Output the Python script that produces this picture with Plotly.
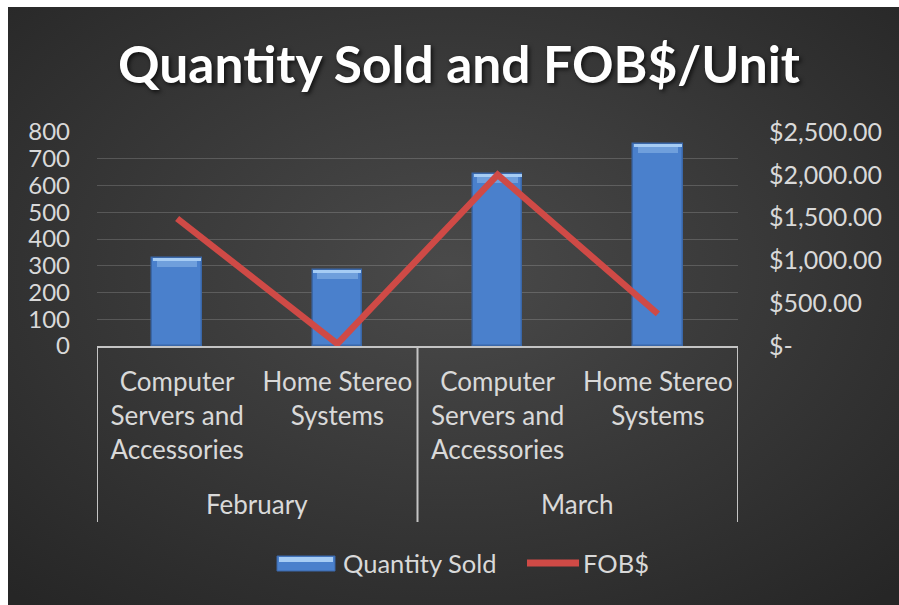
import base64
import plotly.graph_objects as go

# ---- data ----
months = ["February", "March"]
products = ["Computer Servers and Accessories", "Home Stereo Systems"]
product_ticks = ["Computer<br>Servers and<br>Accessories", "Home Stereo<br>Systems"]
quantity_sold = [328, 284, 643, 755]
fob_per_unit = [1490, 25, 2000, 375]
qty_ticks = [0, 100, 200, 300, 400, 500, 600, 700, 800]
fob_tickvals = [0, 500, 1000, 1500, 2000, 2500]
fob_ticktext = ["$-", "$500.00", "$1,000.00", "$1,500.00", "$2,000.00", "$2,500.00"]

# ---- canvas geometry ----
W, H = 899, 605
ML, MR, MT, MB = 97, 161, 132, 259
PW, PH = W - ML - MR, H - MT - MB


def px_x(px):
    return (px - ML) / PW


def px_y(py):
    return (H - MB - py) / PH


FONT = "Lato"
TXT = "#d9d9d9"
BAR = "#4a80cc"
RED = "#cf4a46"

n = len(months) * len(products)
xs = list(range(n))
bar_w = 0.31

fig = go.Figure()

fig.add_trace(go.Bar(
    x=xs, y=quantity_sold, width=bar_w, name="Quantity Sold",
    marker=dict(color=BAR, line=dict(color="#3a67a8", width=1.5)),
    yaxis="y", showlegend=False,
))
# bevel highlight along the top edge of each bar
bev1, bev2 = 10, 22
fig.add_trace(go.Bar(
    x=xs, y=[bev2] * n, base=[v - bev1 - bev2 for v in quantity_sold], width=bar_w * 0.82,
    marker=dict(color="#6f9fdc", line=dict(width=0)), hoverinfo="skip", showlegend=False,
))
fig.add_trace(go.Bar(
    x=xs, y=[bev1] * n, base=[v - bev1 for v in quantity_sold], width=bar_w * 0.97,
    marker=dict(color="#a6ccf4", line=dict(width=0)), hoverinfo="skip", showlegend=False,
))

fig.add_trace(go.Scatter(
    x=xs, y=fob_per_unit, mode="lines", name="FOB$", yaxis="y2",
    line=dict(color=RED, width=6.5), showlegend=False,
))

# background: dark radial gradient panel
svg = (
    '<svg xmlns="http://www.w3.org/2000/svg" width="1000" height="700" '
    'viewBox="0 0 1000 700" preserveAspectRatio="none">'
    '<defs><radialGradient id="g" cx="48%" cy="42%" r="70%">'
    '<stop offset="0" stop-color="#4a4a4a"/><stop offset="1" stop-color="#262626"/>'
    '</radialGradient></defs><rect x="0" y="0" width="1000" height="700" fill="url(#g)"/></svg>'
)
bg_src = "data:image/svg+xml;base64," + base64.b64encode(svg.encode()).decode()
x0_bg, y0_bg = 8, 7
images = [dict(
    source=bg_src, xref="paper", yref="paper",
    x=px_x(x0_bg), y=px_y(y0_bg), sizex=(W + 30 - x0_bg) / PW, sizey=(H + 30 - y0_bg) / PH,
    xanchor="left", yanchor="top", sizing="stretch", layer="below",
)]

shapes = []
annotations = []

# thin white frame on the top and left edges
shapes.append(dict(type="rect", xref="paper", yref="paper", x0=px_x(-2), x1=px_x(W + 2),
                   y0=px_y(y0_bg), y1=px_y(-2), fillcolor="white", line=dict(width=0)))
shapes.append(dict(type="rect", xref="paper", yref="paper", x0=px_x(-2), x1=px_x(x0_bg),
                   y0=px_y(H + 2), y1=px_y(-2), fillcolor="white", line=dict(width=0)))

# category dividers below the axis
div_bottom = px_y(522)
for xv in [-0.5, len(products) - 0.5, n - 0.5]:
    shapes.append(dict(type="line", xref="x", yref="paper", x0=xv, x1=xv, y0=0, y1=div_bottom,
                       line=dict(color="#c4c4c4", width=2)))

# month labels
for i, m in enumerate(months):
    center = i * len(products) + (len(products) - 1) / 2
    annotations.append(dict(text=m, x=center, xref="x", y=px_y(504), yref="paper",
                            showarrow=False, font=dict(family=FONT, size=26, color=TXT),
                            xanchor="center", yanchor="middle"))

# legend
ly = px_y(563)
shapes.append(dict(type="rect", xref="paper", yref="paper", x0=px_x(277), x1=px_x(335),
                   y0=px_y(571), y1=px_y(556), fillcolor=BAR, line=dict(color="#3a67a8", width=1)))
shapes.append(dict(type="rect", xref="paper", yref="paper", x0=px_x(279), x1=px_x(333),
                   y0=px_y(562), y1=px_y(557), fillcolor="#a6ccf4", line=dict(width=0)))
annotations.append(dict(text="Quantity Sold", x=px_x(341), y=ly, xref="paper", yref="paper",
                        showarrow=False, xanchor="left", yanchor="middle",
                        font=dict(family=FONT, size=25.5, color=TXT)))
shapes.append(dict(type="line", xref="paper", yref="paper", x0=px_x(527), x1=px_x(579),
                   y0=ly, y1=ly, line=dict(color=RED, width=7)))
annotations.append(dict(text="FOB$", x=px_x(581), y=ly, xref="paper", yref="paper",
                        showarrow=False, xanchor="left", yanchor="middle",
                        font=dict(family=FONT, size=25.5, color=TXT)))

fig.update_layout(
    width=W, height=H, autosize=False,
    margin=dict(l=ML, r=MR, t=MT, b=MB, pad=0),
    paper_bgcolor="#2b2b2b", plot_bgcolor="rgba(0,0,0,0)",
    barmode="overlay", bargap=0,
    images=images, shapes=shapes, annotations=annotations,
    title=dict(
        text="Quantity Sold and FOB$/Unit", x=459 / W, xanchor="center", xref="container",
        y=1 - 65 / H, yanchor="middle", yref="container",
        font=dict(family=FONT, size=51.5, color="white", weight="bold",
                  shadow="2px 2px 4px rgba(0,0,0,0.7)"),
    ),
    xaxis=dict(
        range=[-0.5, n - 0.5], tickvals=xs, ticktext=product_ticks * len(months),
        showgrid=False, zeroline=False, showline=True, linecolor="#c4c4c4", linewidth=2,
        ticks="", ticklabelstandoff=12,
        tickfont=dict(family=FONT, size=26, color=TXT),
    ),
    yaxis=dict(
        range=[0, 800], tickvals=qty_ticks, showgrid=True, gridcolor="rgba(255,255,255,0.17)",
        gridwidth=1, zeroline=False, showline=False, ticks="", ticklabelstandoff=26,
        tickfont=dict(family=FONT, size=24, color=TXT),
    ),
    yaxis2=dict(
        range=[0, 2500], tickvals=fob_tickvals, ticktext=fob_ticktext, overlaying="y", side="right",
        showgrid=False, zeroline=False, showline=False, ticks="", ticklabelstandoff=30,
        tickfont=dict(family=FONT, size=25, color=TXT),
    ),
    showlegend=False,
)

fig.write_html("out.html")
